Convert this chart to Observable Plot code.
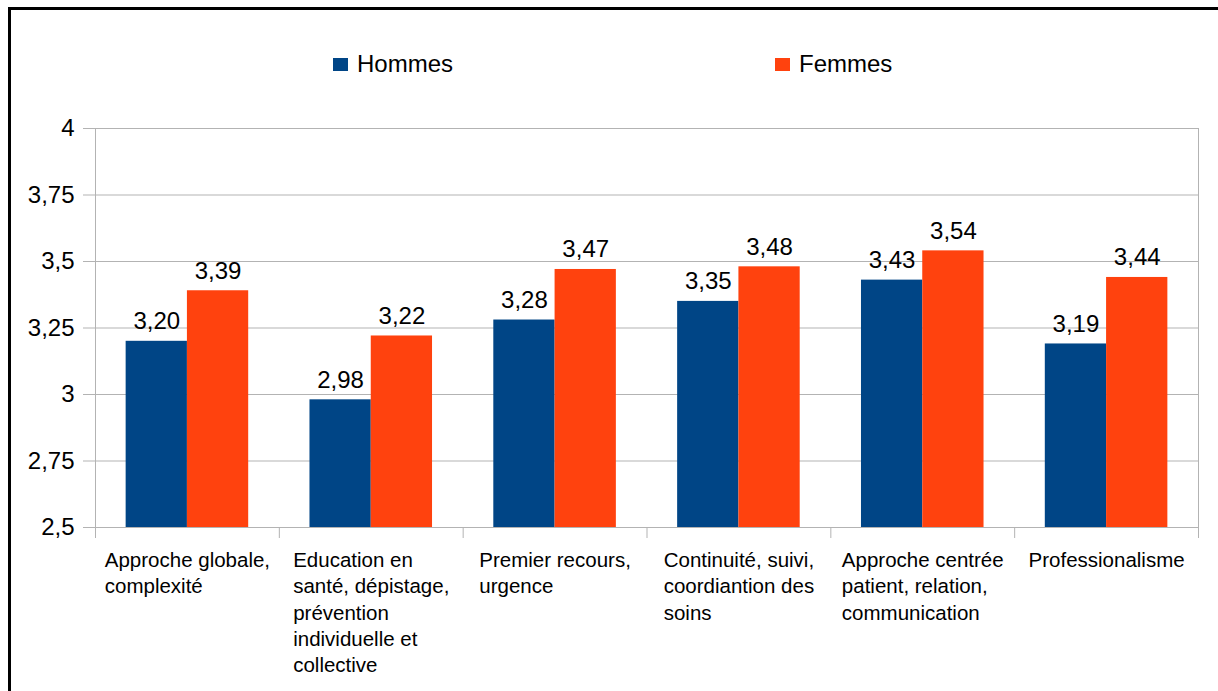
<!DOCTYPE html>
<html>
<head>
<meta charset="utf-8">
<script src="https://cdn.jsdelivr.net/npm/d3@7"></script>
<script src="https://cdn.jsdelivr.net/npm/@observablehq/plot@0.6"></script>
<style>
  html, body { margin: 0; padding: 0; background: #fff; }
  #wrap { position: relative; width: 1218px; height: 691px; overflow: hidden; font-family: "Liberation Sans", Arial, sans-serif; }
  #border { position: absolute; left: 8px; top: 7px; width: 1400px; height: 900px; border: 3px solid #000; box-sizing: border-box; }
  #chart { position: absolute; left: 0; top: 0; }
  .leg { position: absolute; top: 50px; height: 28px; display: flex; align-items: center; font-size: 24px; color: #000; }
  .sw { width: 15px; height: 13px; margin-right: 9px; }
</style>
</head>
<body>
<div id="wrap">
  <div id="border"></div>
  <div id="chart"></div>
  <div class="leg" style="left:333px"><div class="sw" style="background:#004586"></div>Hommes</div>
  <div class="leg" style="left:775px"><div class="sw" style="background:#ff420e"></div>Femmes</div>
</div>
<script>
const categories = [
  "Approche globale,\ncomplexité",
  "Education en\nsanté, dépistage,\nprévention\nindividuelle et\ncollective",
  "Premier recours,\nurgence",
  "Continuité, suivi,\ncoordiantion des\nsoins",
  "Approche centrée\npatient, relation,\ncommunication",
  "Professionalisme"
];
const series = ["Hommes", "Femmes"];
const hommes = [3.20, 2.98, 3.28, 3.35, 3.43, 3.19];
const femmes = [3.39, 3.22, 3.47, 3.48, 3.54, 3.44];
const yTicks = [2.5, 2.75, 3, 3.25, 3.5, 3.75, 4];
const colors = ["#004586", "#ff420e"];

const W = 1218, H = 691;
const mL = 95, mR = 20, mT = 128, mB = 164;
const step = (W - mL - mR) / categories.length;
const plotH = H - mT - mB;
const yMin = yTicks[0];

const rowsH = categories.map((c, i) => ({cat: c, series: series[0], value: hommes[i]}));
const rowsF = categories.map((c, i) => ({cat: c, series: series[1], value: femmes[i]}));

const fmtVal = v => v.toFixed(2).replace(".", ",");
const fmtTick = v => String(v).replace(".", ",");

const labelSize = 20.5;
const canvas = document.createElement("canvas");
const ctx = canvas.getContext("2d");
ctx.font = labelSize + "px 'Liberation Sans'";
const blockWidth = c => Math.max(...c.split("\n").map(l => ctx.measureText(l).width));

const grey = "#b3b3b3";
const font = "Liberation Sans, Arial, sans-serif";

const labelMarks = categories.map(c => Plot.text([c], {
  x: d => d, text: d => d, frameAnchor: "bottom", textAnchor: "start",
  lineAnchor: "top", lineHeight: 1.28, fontSize: labelSize, fill: "#000",
  dx: -blockWidth(c) / 2, dy: 21
}));

const chart = Plot.plot({
  width: W, height: H,
  marginLeft: mL, marginRight: mR, marginTop: mT, marginBottom: mB,
  style: {fontFamily: font, background: "transparent", color: "#000"},
  x: {domain: categories, type: "band", padding: 0, round: false, axis: null},
  y: {domain: [yMin, yTicks[yTicks.length - 1]], axis: null},
  marks: [
    Plot.gridY(yTicks, {stroke: grey, strokeOpacity: 1}),
    Plot.frame({stroke: grey}),
    Plot.axisY(yTicks, {tickSize: 12, tickPadding: 9, tickFormat: fmtTick, fontSize: 24, stroke: grey, fill: "#000", label: null}),
    Plot.tickX(categories, {x: d => d, dx: -step / 2, stroke: grey, insetTop: plotH, insetBottom: -11}),
    Plot.tickX(categories.slice(-1), {x: d => d, dx: step / 2, stroke: grey, insetTop: plotH, insetBottom: -11}),
    Plot.barY(rowsH, {x: "cat", y1: () => yMin, y2: "value", fill: colors[0], insetLeft: step / 6, insetRight: step / 2}),
    Plot.barY(rowsF, {x: "cat", y1: () => yMin, y2: "value", fill: colors[1], insetLeft: step / 2, insetRight: step / 6}),
    Plot.text(rowsH, {x: "cat", y: "value", text: d => fmtVal(d.value), dx: -step / 6, dy: -12, lineAnchor: "bottom", fontSize: 24, fill: "#000"}),
    Plot.text(rowsF, {x: "cat", y: "value", text: d => fmtVal(d.value), dx: step / 6, dy: -12, lineAnchor: "bottom", fontSize: 24, fill: "#000"}),
    ...labelMarks
  ]
});
document.getElementById("chart").appendChild(chart);
</script>
</body>
</html>
